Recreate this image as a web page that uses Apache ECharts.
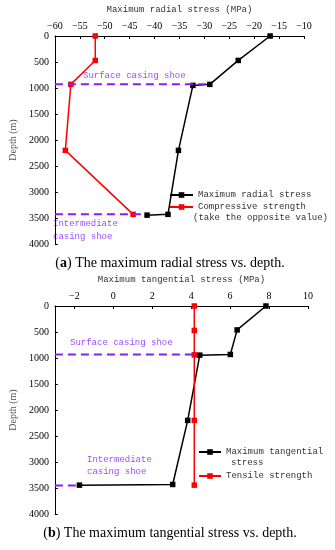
<!DOCTYPE html>
<html>
<head>
<meta charset="utf-8">
<script src="https://cdn.jsdelivr.net/npm/echarts@6/dist/echarts.min.js"></script>
<style>
html,body{margin:0;padding:0;background:#fff;}
#c{width:335px;height:550px;}
</style>
</head>
<body>
<div id="c"></div>
<script>
// ---- data (a) ----
const radialDepth = [0, 470, 930, 950, 2200, 3430, 3445];
const radialStress = [-16.8, -23.2, -28.9, -32.3, -35.2, -37.3, -41.5];
const compDepth = [0, 470, 930, 2200, 3430];
const compStrength = [-51.9, -51.9, -56.8, -57.9, -44.3];
const shoeDepthA = [930, 3430];
const shoeEndA = [-28.6, -42.2];
// ---- data (b) ----
const tangDepth = [0, 460, 932, 945, 2200, 3432, 3445];
const tangStress = [7.84, 6.36, 6.01, 4.44, 3.82, 3.05, -1.74];
const tensDepth = [0, 470, 940, 2200, 3445];
const tensStrength = [4.16, 4.16, 4.16, 4.16, 4.16];
const shoeDepthB = [935, 3450];
const shoeEndB = [4.2, -1.9];
// ---- axes ----
const depthTicks = [0, 500, 1000, 1500, 2000, 2500, 3000, 3500, 4000];
const radialTicks = [-60, -55, -50, -45, -40, -35, -30, -25, -20, -15, -10];
const tangTicks = [-2, 0, 2, 4, 6, 8, 10];

const pairs = (xs, ys) => xs.map((x, i) => [x, ys[i]]);
const SERIF = '"Liberation Serif", "Times New Roman", serif';
const MONO = '"Liberation Mono", "DejaVu Sans Mono", monospace';
const PURPLE = '#8a1cf5';
const PURPLE_T = '#a24cff';

function xAxisCfg(idx, name, min, max, ticks) {
  return {
    gridIndex: idx, type: 'value', position: 'top', min: min, max: max,
    name: name, nameLocation: 'middle', nameGap: 22,
    nameTextStyle: {fontFamily: MONO, fontSize: 9, color: '#333'},
    axisLine: {show: true, onZero: false, lineStyle: {color: '#000', width: 1}},
    axisTick: {show: true, inside: true, length: 3, customValues: ticks, lineStyle: {color: '#000'}},
    axisLabel: {customValues: ticks, margin: 5, fontFamily: SERIF, fontSize: 10, color: '#000',
      formatter: v => (v < 0 ? '\u2212' + Math.abs(v) : '' + v)},
    splitLine: {show: false}
  };
}
function yAxisCfg(idx) {
  return {
    gridIndex: idx, type: 'value', inverse: true, min: 0, max: 4000, interval: 500,
    name: 'Depth (m)', nameLocation: 'middle', nameGap: 33, nameRotate: 90,
    nameTextStyle: {fontFamily: SERIF, fontSize: 10, color: '#555'},
    axisLine: {show: true, onZero: false, lineStyle: {color: '#000', width: 1}},
    axisTick: {show: true, inside: true, length: 3, customValues: depthTicks, lineStyle: {color: '#000'}},
    axisLabel: {customValues: depthTicks, margin: 6, fontFamily: SERIF, fontSize: 10, color: '#000',
      formatter: v => String(v)},
    splitLine: {show: false}
  };
}
function lineSeries(name, xi, data, color) {
  return {
    name: name, type: 'line', xAxisIndex: xi, yAxisIndex: xi, data: data,
    symbol: 'rect', symbolSize: 5.5, showSymbol: true,
    lineStyle: {color: color, width: 1.5}, itemStyle: {color: color},
    emphasis: {disabled: true}, animation: false, z: 3
  };
}
function shoeSeries(xi, depths, ends, xmin) {
  return depths.map((d, i) => ({
    type: 'line', xAxisIndex: xi, yAxisIndex: xi,
    data: [[xmin, d], [ends[i], d]], symbol: 'none',
    lineStyle: {color: PURPLE, width: 2, type: [8, 5]},
    emphasis: {disabled: true}, animation: false, z: 4
  }));
}

const chart = echarts.init(document.getElementById('c'), null, {renderer: 'canvas'});
const legText = {fontFamily: MONO, fontSize: 9, color: '#333', lineHeight: 12};
const option = {
  animation: false,
  grid: [
    {left: 46, top: 36, width: 258, height: 208, containLabel: false},
    {left: 51, top: 306, width: 257, height: 208, containLabel: false}
  ],
  xAxis: [
    xAxisCfg(0, 'Maximum radial stress (MPa)', -60, -10, radialTicks),
    xAxisCfg(1, 'Maximum tangential stress (MPa)', -3, 10, tangTicks)
  ],
  yAxis: [yAxisCfg(0), yAxisCfg(1)],
  legend: [
    {data: ['Maximum radial stress', 'Compressive strength'], orient: 'vertical',
     left: 169, top: 189, itemWidth: 23, itemHeight: 7, itemGap: 0, padding: 0,
     textStyle: legText, selectedMode: false},
    {data: ['Maximum tangential', 'Tensile strength'], orient: 'vertical',
     left: 198, top: 446, itemWidth: 22, itemHeight: 7, itemGap: 12, padding: 0,
     textStyle: legText, selectedMode: false}
  ],
  series: [
    lineSeries('Maximum radial stress', 0, pairs(radialStress, radialDepth), '#000'),
    lineSeries('Compressive strength', 0, pairs(compStrength, compDepth), '#ff0000'),
    ...shoeSeries(0, shoeDepthA, shoeEndA, -60),
    lineSeries('Maximum tangential', 1, pairs(tangStress, tangDepth), '#000'),
    lineSeries('Tensile strength', 1, pairs(tensStrength, tensDepth), '#ff0000'),
    ...shoeSeries(1, shoeDepthB, shoeEndB, -3)
  ],
  graphic: [
    {type: 'text', left: 193, top: 213, style: {text: '(take the opposite value)', font: '9px ' + MONO, fill: '#333'}},
    {type: 'text', left: 231, top: 458, style: {text: 'stress', font: '9px ' + MONO, fill: '#333'}},
    {type: 'text', left: 83, top: 71, style: {text: 'Surface casing shoe', font: '9px ' + MONO, fill: PURPLE_T}},
    {type: 'text', left: 53, top: 217, style: {text: 'Intermediate\ncasing shoe', font: '9px ' + MONO, fill: PURPLE_T, lineHeight: 13}},
    {type: 'text', left: 70, top: 338, style: {text: 'Surface casing shoe', font: '9px ' + MONO, fill: PURPLE_T}},
    {type: 'text', left: 87, top: 454, style: {text: 'Intermediate\ncasing shoe', font: '9px ' + MONO, fill: PURPLE_T, lineHeight: 12}},
    {type: 'text', x: 170, y: 263, style: {
      text: '{n|(}{b|a}{n|) The maximum radial stress vs. depth.}', align: 'center', verticalAlign: 'middle',
      rich: {n: {fontFamily: SERIF, fontSize: 14, fill: '#000'}, b: {fontFamily: SERIF, fontSize: 14, fontWeight: 'bold', fill: '#000'}}}},
    {type: 'text', x: 170, y: 533, style: {
      text: '{n|(}{b|b}{n|) The maximum tangential stress vs. depth.}', align: 'center', verticalAlign: 'middle',
      rich: {n: {fontFamily: SERIF, fontSize: 14, fill: '#000'}, b: {fontFamily: SERIF, fontSize: 14, fontWeight: 'bold', fill: '#000'}}}}
  ]
};
chart.setOption(option);
</script>
</body>
</html>
